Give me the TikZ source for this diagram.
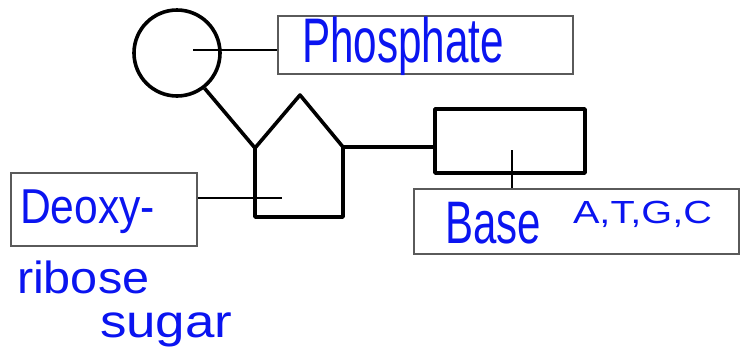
\documentclass[tikz,border=0pt]{standalone}
\usepackage{fontspec}
\setmainfont{Liberation Sans}
\usepackage{graphicx}
\definecolor{ink}{RGB}{10,20,240}
\definecolor{boxgray}{RGB}{90,90,90}
\tikzset{
  mol/.style={draw=black, line width=3.6pt, line join=round},
  label box/.style={draw=boxgray, line width=1.4pt, inner sep=0pt},
  pointer/.style={draw=black, line width=2.6pt},
  hand/.style={text=ink, anchor=base west, inner sep=0pt, outer sep=0pt}
}
\begin{document}
\begin{tikzpicture}[x=1pt,y=-1pt]
\useasboundingbox (0,0) rectangle (740,362);
% phosphate circle
\node[mol, circle, minimum size=86pt, inner sep=0pt] (phos) at (177,53) {};
% sugar pentagon corners
\coordinate (sl) at (255,148);
\coordinate (st) at (300,95);
\coordinate (sr) at (343,147);
\coordinate (sbr) at (343,217);
\coordinate (sbl) at (255,217);
\draw[mol] (sl) -- (st) -- (sr) -- (sbr) -- (sbl) -- cycle;
% base rectangle
\node[mol, rectangle, minimum width=150pt, minimum height=64pt, inner sep=0pt] (brect) at (510,141) {};
% label boxes
\node[label box, minimum width=295pt, minimum height=58pt] (pbox) at (425.5,45) {};
\node[label box, minimum width=186pt, minimum height=73pt] (dbox) at (104,209.5) {};
\node[label box, minimum width=325pt, minimum height=65pt] (lbox) at (576.5,221.5) {};
% molecular bonds
\draw[mol] (phos.-52) -- (sl);
\draw[mol] (sr) -- (sr -| brect.west);
% pointer lines
\coordinate (pstart) at (193,50);
\draw[pointer] (pstart) -- (pstart -| pbox.west);
\coordinate (dend) at (282,198);
\draw[pointer] (dend -| dbox.east) -- (dend);
\coordinate (bin) at (512,150);
\draw[pointer] (bin) -- (bin |- lbox.north);
% handwritten labels
\node[hand, font=\fontsize{63}{63}\selectfont] (tphos) at (302,62) {\scalebox{0.67}[1]{Phosphate}};
\node[hand, font=\fontsize{49}{49}\selectfont] (tdeoxy) at (20,223) {\scalebox{0.87}[1]{Deoxy-}};
\node[hand, font=\fontsize{45}{45}\selectfont] (tribose) at (17,293) {\scalebox{1.08}[1]{ribose}};
\node[hand, font=\fontsize{46}{46}\selectfont] (tsugar) at (100,337) {\scalebox{1.15}[1]{sugar}};
\node[hand, font=\fontsize{60}{60}\selectfont] (tbase) at (445,243) {\scalebox{0.7}[1]{Base}};
\node[hand, font=\fontsize{32}{32}\selectfont] (tatgc) at (573,223) {\scalebox{1.24}[1]{A,T,G,C}};
\end{tikzpicture}
\end{document}
